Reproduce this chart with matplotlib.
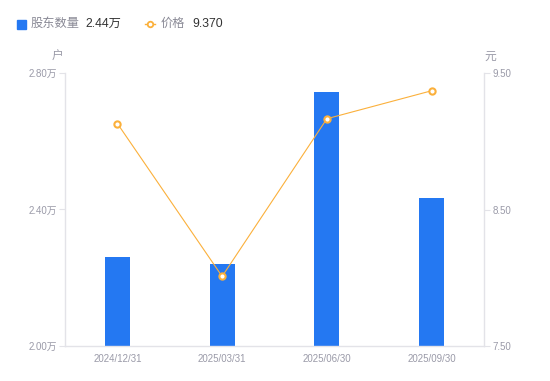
import numpy as np
import matplotlib
matplotlib.use('Agg')
import matplotlib.pyplot as plt
from matplotlib.lines import Line2D
from matplotlib.patches import Rectangle

plt.rcParams['font.family'] = ['Liberation Sans', 'Noto Sans CJK SC', 'DejaVu Sans']

# data
dates = ['2024/12/31', '2025/03/31', '2025/06/30', '2025/09/30']
holders = [2.26, 2.24, 2.745, 2.434]     # 万户
price = [9.13, 8.01, 9.165, 9.37]        # 元
left_ticks = [2.00, 2.40, 2.80]
right_ticks = [7.50, 8.50, 9.50]
legend_holders = '2.44万'
legend_price = '9.370'

blue = '#2478f2'
orange = '#fbb03b'
grey = '#9a9aa8'
axis_c = '#e3e3e8'

fig = plt.figure(figsize=(5.5, 3.81), dpi=100)
ax = fig.add_axes([65 / 550, 35 / 381, 419 / 550, 273 / 381])
x = np.arange(len(dates))
ax.bar(x, holders, width=0.24, color=blue, zorder=2)
ax.set_xlim(-0.5, len(dates) - 0.5)
ax.set_ylim(2.0, 2.8)
ax.set_yticks(left_ticks)
ax.set_yticklabels(['{:.2f}万'.format(v) for v in left_ticks])
ax.set_xticks(x)
ax.set_xticklabels(dates)

ax2 = ax.twinx()
ax2.plot(x, price, color=orange, lw=0.8, marker='o', ms=4.5,
         mfc='white', mec=orange, mew=1.5, zorder=3)
ax2.set_ylim(7.5, 9.5)
ax2.set_yticks(right_ticks)
ax2.set_yticklabels(['{:.2f}'.format(v) for v in right_ticks])

for a in (ax, ax2):
    for s in a.spines.values():
        s.set_visible(False)
ax.spines['left'].set_visible(True)
ax.spines['bottom'].set_visible(True)
ax2.spines['right'].set_visible(True)
for s in (ax.spines['left'], ax.spines['bottom'], ax2.spines['right']):
    s.set_color(axis_c)
    s.set_linewidth(1)

ax.tick_params(axis='y', colors=axis_c, labelcolor=grey, labelsize=7,
               length=4, width=0.8, pad=2)
ax.tick_params(axis='x', length=0, labelcolor=grey, labelsize=7, pad=6)
ax2.tick_params(axis='y', colors=axis_c, labelcolor=grey, labelsize=7,
                length=4, width=0.8, pad=2)

fig.text(58 / 550, 1 - 57 / 381, '户', color=grey, fontsize=8.5,
         ha='center', va='center')
fig.text(490 / 550, 1 - 57 / 381, '元', color=grey, fontsize=8.5,
         ha='center', va='center')

# legend at top
fig.patches.append(Rectangle((17 / 550, 1 - 29 / 381), 9 / 550, 9 / 381,
                             transform=fig.transFigure, color=blue))
fig.text(31 / 550, 1 - 24 / 381, '股东数量', color='#8a8a96', fontsize=8.8,
         va='center')
fig.text(85 / 550, 1 - 24 / 381, legend_holders, color='#333333',
         fontsize=8.8, va='center')
fig.lines.append(Line2D([145 / 550, 155 / 550], [1 - 24 / 381, 1 - 24 / 381],
                        transform=fig.transFigure, color=orange, lw=1))
fig.lines.append(Line2D([150 / 550], [1 - 24 / 381], transform=fig.transFigure,
                        color=orange, marker='o', ms=4, mfc='white', mec=orange, mew=1.3))
fig.text(161 / 550, 1 - 24 / 381, '价格', color='#8a8a96', fontsize=8.8,
         va='center')
fig.text(192 / 550, 1 - 24 / 381, legend_price, color='#333333',
         fontsize=8.8, va='center')

fig.savefig('out.png', dpi=100)
